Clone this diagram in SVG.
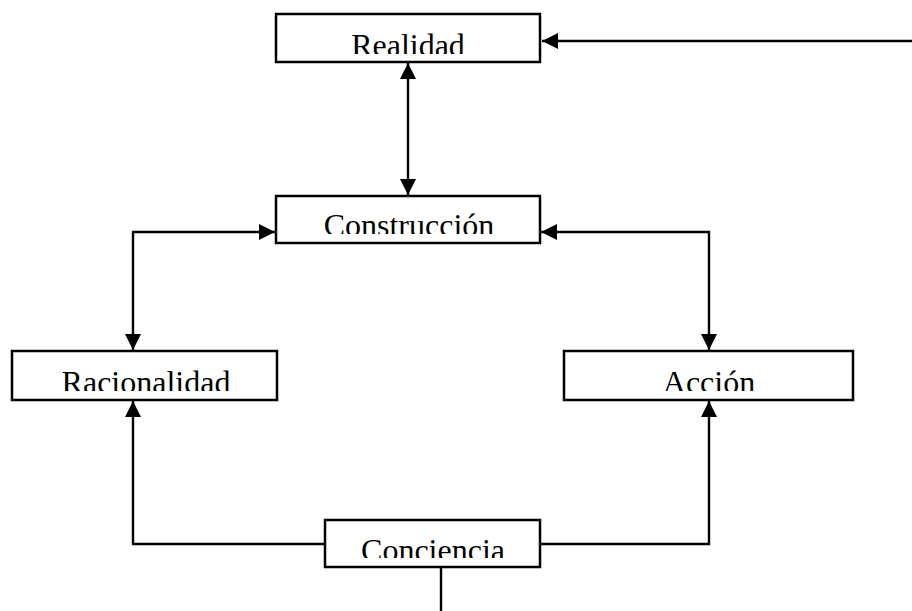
<svg xmlns="http://www.w3.org/2000/svg" width="912" height="611" viewBox="0 0 912 611">
<style>
.box{fill:#fff;stroke:#000;stroke-width:2.5}
.lbl{font-family:"Liberation Serif","Times New Roman",serif;font-size:32px;fill:#000;text-anchor:middle}
.con{fill:none;stroke:#000;stroke-width:2.4}
</style>
<defs>
<marker id="ah" markerUnits="userSpaceOnUse" markerWidth="17" markerHeight="17" viewBox="0 0 17 17" refX="16" refY="8" orient="auto-start-reverse">
<path d="M0,0 L16,8 L0,16 z" fill="#000"/>
</marker>
<clipPath id="c1"><rect x="276" y="14" width="264" height="40"/></clipPath>
<clipPath id="c2"><rect x="276" y="196" width="264" height="38"/></clipPath>
<clipPath id="c3"><rect x="12" y="351" width="265" height="40"/></clipPath>
<clipPath id="c4"><rect x="564" y="351" width="289" height="40"/></clipPath>
<clipPath id="c5"><rect x="325" y="520" width="215" height="38"/></clipPath>
</defs>
<g id="connectors">
<path class="con" d="M912,41 L542,41" marker-end="url(#ah)"/>
<path class="con" d="M408,63 L408,195" marker-start="url(#ah)" marker-end="url(#ah)"/>
<path class="con" d="M275,232 L133,232 L133,350" marker-start="url(#ah)" marker-end="url(#ah)"/>
<path class="con" d="M541,232 L709,232 L709,350" marker-start="url(#ah)" marker-end="url(#ah)"/>
<path class="con" d="M325,544 L133,544 L133,401" marker-end="url(#ah)"/>
<path class="con" d="M540,544 L709,544 L709,401" marker-end="url(#ah)"/>
<path class="con" d="M441,567 L441,611"/>
</g>
<g id="realidad">
<rect class="box" x="276" y="14" width="264" height="48"/>
<text class="lbl" x="408" y="56" clip-path="url(#c1)">Realidad</text>
</g>
<g id="construccion">
<rect class="box" x="276" y="196" width="264" height="47"/>
<text class="lbl" x="409" y="236" clip-path="url(#c2)">Construcción</text>
</g>
<g id="racionalidad">
<rect class="box" x="12" y="351" width="265" height="49"/>
<text class="lbl" x="146" y="393" clip-path="url(#c3)">Racionalidad</text>
</g>
<g id="accion">
<rect class="box" x="564" y="351" width="289" height="49"/>
<text class="lbl" x="709" y="393" clip-path="url(#c4)">Acción</text>
</g>
<g id="conciencia">
<rect class="box" x="325" y="520" width="215" height="47"/>
<text class="lbl" x="433" y="561" clip-path="url(#c5)">Conciencia</text>
</g>
</svg>
